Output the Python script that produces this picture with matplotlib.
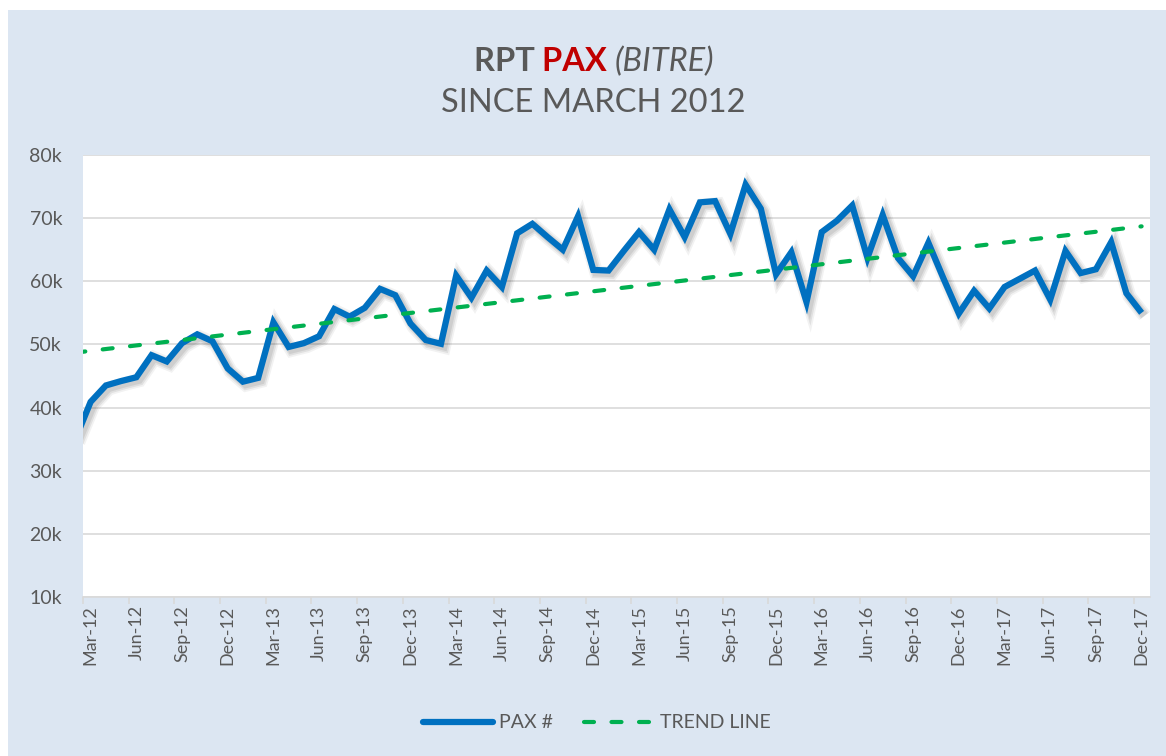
import numpy as np
import pandas as pd
import matplotlib
matplotlib.use("Agg")
import matplotlib.pyplot as plt
from matplotlib.lines import Line2D
from matplotlib.patches import Rectangle
from matplotlib.ticker import FuncFormatter
import matplotlib.patheffects as pe

plt.rcParams["font.family"] = ["Lato", "DejaVu Sans"]

# Monthly RPT passengers (thousands), Feb-2012 .. Dec-2017
months = pd.date_range("2012-02-01", "2017-12-01", freq="MS")
month_labels = [d.strftime("%b-%y") for d in months]

pax_k = [
    35.0,                                                         # Feb-12
    40.9, 43.5, 44.2, 44.8, 48.3, 47.3, 50.2, 51.6, 50.5, 46.2,   # Mar-12 .. Dec-12
    44.1, 44.7, 53.5, 49.6, 50.2, 51.3, 55.6, 54.4, 55.8, 58.8,   # Jan-13 .. Oct-13
    57.8, 53.3, 50.7, 50.1, 60.9, 57.4, 61.7, 59.1, 67.6, 69.1,   # Nov-13 .. Aug-14
    67.0, 65.0, 70.3, 61.8, 61.7, 64.8, 67.8, 65.0, 71.4, 67.0,   # Sep-14 .. Jun-15
    72.5, 72.7, 67.5, 75.3, 71.5, 61.1, 64.6, 56.7, 67.8, 69.6,   # Jul-15 .. Apr-16
    72.0, 63.7, 70.5, 63.7, 60.8, 66.1, 60.4, 54.9, 58.5, 55.7,   # May-16 .. Feb-17
    59.1, 60.4, 61.7, 57.1, 64.8, 61.3, 61.9, 66.2, 58.1, 55.0,   # Mar-17 .. Dec-17
]
trend_ends_k = [48.7, 68.7]   # linear trend at Feb-12 and Dec-17

y_ticks = [10, 20, 30, 40, 50, 60, 70, 80]

GREY_TXT = "#595959"
BLUE = "#0070C0"
GREEN = "#00B050"
BG = "#DCE6F2"

W, H = 1166, 756
fig = plt.figure(figsize=(W / 100, H / 100), dpi=100)
fig.patch.set_facecolor("white")
fig.patches.append(Rectangle((8 / W, 0), 1 - 8 / W, 1 - 10 / H,
                             transform=fig.transFigure, facecolor=BG,
                             edgecolor="none", zorder=-10))

ax = fig.add_axes([83 / W, 1 - 597 / H, (1150 - 83) / W, (597 - 155) / H])
ax.set_facecolor("white")

x = np.arange(len(pax_k)) - 1   # Mar-12 sits at 0

shadow = [
    pe.SimpleLineShadow(offset=(2.2, -2.2), shadow_color="black", alpha=0.05, linewidth=10),
    pe.SimpleLineShadow(offset=(2.2, -2.2), shadow_color="black", alpha=0.07, linewidth=7.5),
    pe.SimpleLineShadow(offset=(2.0, -2.0), shadow_color="black", alpha=0.08, linewidth=5.5),
    pe.Normal(),
]
ax.plot(x, pax_k, color=BLUE, lw=4.5, solid_joinstyle="miter",
        solid_capstyle="butt", path_effects=shadow, zorder=3)
ax.plot([x[0], x[-1]], trend_ends_k, color=GREEN, lw=3.0,
        dashes=(2.4, 4.2), dash_capstyle="round", zorder=4)

ax.set_xlim(-0.5, 69.55)
ax.set_ylim(10, 80)
ax.set_yticks(y_ticks)
ax.yaxis.set_major_formatter(FuncFormatter(lambda v, p: f"{v:.0f}k"))
ax.grid(axis="y", color="#D9D9D9", lw=1.2, zorder=0)
ax.set_axisbelow(True)

ax.set_xticks(np.arange(0, 70, 3))
ax.set_xticklabels(month_labels[1::3], rotation=90)
ax.set_xticks(np.arange(-0.5, 69, 3), minor=True)
ax.tick_params(axis="x", which="major", length=0, pad=6,
               labelsize=13, labelcolor=GREY_TXT)
ax.tick_params(axis="x", which="minor", length=5, width=1.2, color="#D9D9D9")
ax.tick_params(axis="y", length=0, pad=15, labelsize=14, labelcolor=GREY_TXT)

for s in ("top", "right", "left"):
    ax.spines[s].set_visible(False)
ax.spines["bottom"].set_color("#D9D9D9")
ax.spines["bottom"].set_linewidth(1.2)

# Title, line 1 assembled from three styled pieces
TS = 23.5
yb = 1 - 71 / H
t1 = fig.text(0, yb, "RPT ", fontsize=TS, fontweight="bold",
              color=GREY_TXT, va="baseline", ha="left")
t2 = fig.text(0, yb, "PAX ", fontsize=TS, fontweight="bold", color="#C00000",
              va="baseline", ha="left")
t3 = fig.text(0, yb, "(BITRE)", fontsize=TS, fontstyle="italic",
              color=GREY_TXT, va="baseline", ha="left")
fig.canvas.draw()
r = fig.canvas.get_renderer()
w1 = t1.get_window_extent(r).width
w2 = t2.get_window_extent(r).width
w3 = t3.get_window_extent(r).width
start = 594 - (w1 + w2 + w3) / 2
t1.set_position((start / W, yb))
t2.set_position(((start + w1) / W, yb))
t3.set_position(((start + w1 + w2) / W, yb))

fig.text(593 / W, 1 - 112 / H, "SINCE MARCH 2012", fontsize=TS,
         color=GREY_TXT, va="baseline", ha="center")

handles = [
    Line2D([], [], color=BLUE, lw=4.5, solid_capstyle="round"),
    Line2D([], [], color=GREEN, lw=3.0, dashes=(2.4, 4.2), dash_capstyle="round"),
]
leg = fig.legend(handles, ["PAX #", "TREND LINE"], loc="center",
                 bbox_to_anchor=(597 / W, 1 - 723 / H), ncol=2, frameon=False,
                 fontsize=14, handlelength=3.6, handletextpad=0.3,
                 columnspacing=1.6)
for t in leg.get_texts():
    t.set_color(GREY_TXT)

fig.savefig("out.png", dpi=100, facecolor=fig.get_facecolor())
